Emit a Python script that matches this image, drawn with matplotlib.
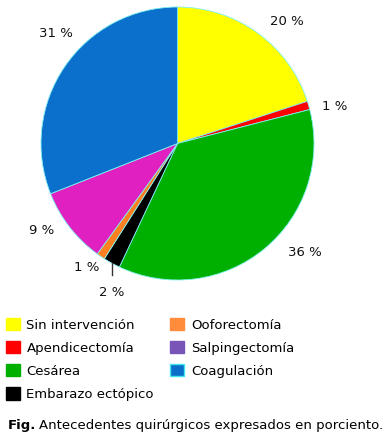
import matplotlib
matplotlib.use("Agg")
import matplotlib.pyplot as plt
from matplotlib.patches import Patch
import numpy as np

categories = ["Sin intervención", "Apendicectomía", "Cesárea", "Embarazo ectópico",
              "Ooforectomía", "Salpingectomía", "Coagulación"]
values = [20, 1, 36, 2, 1, 9, 31]
pie_colors = ["#FFFF00", "#FF0000", "#00B000", "#000000", "#FF8020", "#E020C0", "#0A70CC"]
legend_colors = ["#FFFF00", "#FF0000", "#00B000", "#000000", "#FF8C3A", "#7A55B8", "#0A6FC8"]

plt.rcParams['font.family'] = ['DejaVu Sans']

fig = plt.figure(figsize=(3.89, 4.40), dpi=100)
W, H = 389, 440
ax = fig.add_axes([41 / W, 1 - 280 / H, 273 / W, 273 / H])

wedges, _ = ax.pie(values, colors=pie_colors, startangle=90, counterclock=False,
                   wedgeprops=dict(edgecolor="#7FF0F0", linewidth=0.6))
ax.set_xlim(-1, 1)
ax.set_ylim(-1, 1)
ax.set_aspect('equal')

label_angle_shift = [-6, -3, 10, 5, -2, -5, -8]
label_dist = [1.2, 1.18, 1.23, 1.19, 1.13, 1.18, 1.2]
for w, v, sh, d in zip(wedges, values, label_angle_shift, label_dist):
    mid = np.deg2rad((w.theta1 + w.theta2) / 2 + sh)
    ax.text(d * np.cos(mid), d * np.sin(mid), f"{v} %", ha="center", va="center",
            fontsize=9.5, color="#111111", clip_on=False)

bw = wedges[3]
m = np.deg2rad((bw.theta1 + bw.theta2) / 2)
x0 = np.cos(m)
ax.plot([x0, x0], [np.sin(m), np.sin(m) - 0.09], color="#333333", lw=1.0, clip_on=False)

handles = [Patch(facecolor=c, edgecolor=("#40E8F0" if i == 6 else c)) for i, c in enumerate(legend_colors)]
fig.legend(handles, categories, ncol=2, loc="upper left",
           bbox_to_anchor=(6 / W, 1 - 318 / H), frameon=False, fontsize=9.5,
           handlelength=1.05, handleheight=1.05, handletextpad=0.5,
           labelspacing=0.72, columnspacing=1.25, borderpad=0, borderaxespad=0)

fig.text(8 / W, 1 - 425 / H, "Fig.", fontsize=9.5, va="center", ha="left",
         fontweight="bold")
fig.text(39 / W, 1 - 425 / H, "Antecedentes quirúrgicos expresados en porciento.",
         fontsize=9.5, va="center", ha="left")

fig.savefig("out.png", dpi=100)
